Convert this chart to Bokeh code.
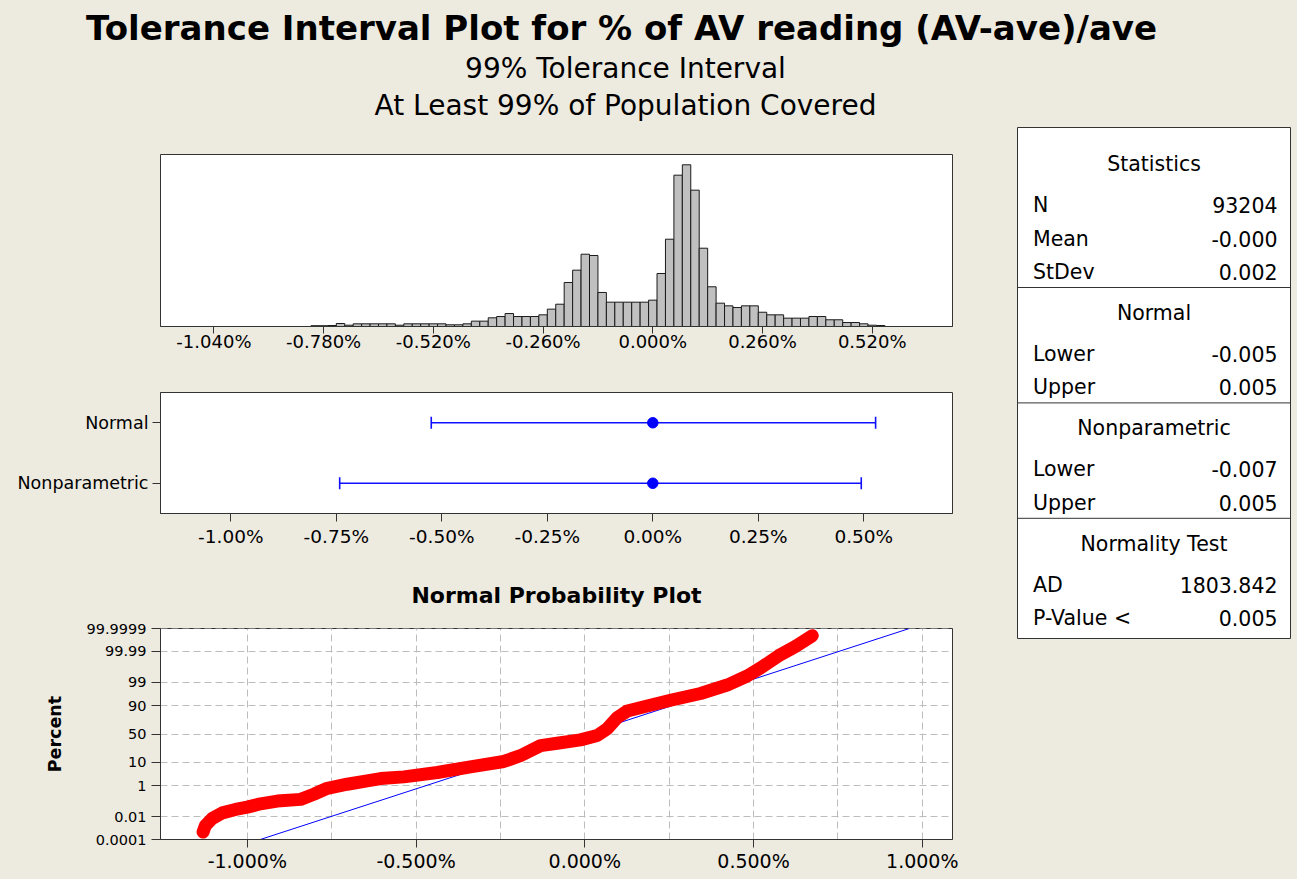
import math
from bokeh.plotting import figure
from bokeh.layouts import column, row
from bokeh.models import Range1d, FactorRange, FixedTicker, PrintfTickFormatter
from bokeh.core.properties import value
from bokeh.embed import file_html
from bokeh.resources import INLINE

# ---------------- data ----------------
title_text = "Tolerance Interval Plot for % of AV reading  (AV-ave)/ave"
subtitle_lines = ["99% Tolerance Interval", "At Least 99% of Population Covered"]

# histogram of (AV-ave)/ave, in percent; bin width 0.02 %
hist_centers = [-0.80, -0.78, -0.76, -0.74, -0.72, -0.70, -0.68, -0.66, -0.64, -0.62,
                -0.60, -0.58, -0.56, -0.54, -0.52, -0.50, -0.48, -0.46, -0.44, -0.42,
                -0.40, -0.38, -0.36, -0.34, -0.32, -0.30, -0.28, -0.26, -0.24, -0.22,
                -0.20, -0.18, -0.16, -0.14, -0.12, -0.10, -0.08, -0.06, -0.04, -0.02,
                0.00, 0.02, 0.04, 0.06, 0.08, 0.10, 0.12, 0.14, 0.16, 0.18,
                0.20, 0.22, 0.24, 0.26, 0.28, 0.30, 0.32, 0.34, 0.36, 0.38,
                0.40, 0.42, 0.44, 0.46, 0.48, 0.50, 0.52, 0.54]
hist_counts = [50, 50, 60, 185, 80, 165, 165, 165, 165, 165,
               80, 165, 165, 165, 165, 165, 105, 105, 165, 330,
               330, 535, 615, 800, 615, 615, 615, 720, 1070, 1375,
               2715, 3475, 4460, 4380, 2100, 1500, 1500, 1500, 1500, 1500,
               1625, 3270, 5385, 9335, 9975, 8410, 4830, 2450, 1440, 1275,
               1170, 1275, 1275, 880, 720, 720, 515, 515, 515, 615,
               615, 415, 415, 245, 245, 165, 80, 60]
hist_bin_width = 0.02
hist_ticks = [-1.04, -0.78, -0.52, -0.26, 0.0, 0.26, 0.52]

# tolerance intervals (percent)
interval_methods = ["Normal", "Nonparametric"]
interval_lower = [-0.525, -0.742]
interval_upper = [0.528, 0.494]
interval_center = [0.0, 0.0]
interval_ticks = [-1.0, -0.75, -0.5, -0.25, 0.0, 0.25, 0.5]

# normal probability plot (value in percent, cumulative percent)
pp_x = [-1.131, -1.124, -1.104, -1.074, -1.035, -1.000, -0.961, -0.911, -0.842, -0.803,
        -0.763, -0.704, -0.645, -0.605, -0.536, -0.437, -0.339, -0.240, -0.191, -0.131,
        -0.082, -0.013, 0.037, 0.066, 0.096, 0.126, 0.185, 0.254, 0.343, 0.422,
        0.481, 0.521, 0.574, 0.624, 0.674]
pp_pct = [0.0005, 0.0019, 0.0070, 0.0189, 0.0337, 0.0492, 0.083, 0.125, 0.161, 0.33,
          0.72, 1.18, 1.73, 2.23, 2.67, 4.13, 6.98, 10.8, 16.4, 30.0,
          33.8, 39.6, 47.3, 59.3, 76.9, 85.0, 89.7, 93.6, 96.6, 98.63,
          99.553, 99.855, 99.9787, 99.996, 99.99953]
fit_mean = 0.0
fit_sd = 0.2023
pp_y_tick_pct = [0.0001, 0.01, 1, 10, 50, 90, 99, 99.99, 99.9999]
pp_y_tick_labels = ["0.0001", "0.01", "1", "10", "50", "90", "99", "99.99", "99.9999"]
pp_x_ticks = [-1.0, -0.5, 0.0, 0.5, 1.0]
pp_x_grid = [-1.0, -0.75, -0.5, -0.25, 0.0, 0.25, 0.5, 0.75, 1.0]

# statistics table
table_sections = ["Statistics", "Normal", "Nonparametric", "Normality Test"]
table_rows = [
    [("N", "93204"), ("Mean", "-0.000"), ("StDev", "0.002")],
    [("Lower", "-0.005"), ("Upper", "0.005")],
    [("Lower", "-0.007"), ("Upper", "0.005")],
    [("AD", "1803.842"), ("P-Value <", "0.005")],
]

# ---------------- styling ----------------
BG = "#EDEAE0"
FONT = "DejaVu Sans"
FRAME = "#333333"
TOTAL_W = 1297
TOTAL_H = 879
TH = 126
W_LEFT = 1005
W_RIGHT = TOTAL_W - W_LEFT
FRAME_L = 160
FRAME_W = 792


def norm_ppf(p):
    lo, hi = -12.0, 12.0
    for _ in range(200):
        mid = 0.5 * (lo + hi)
        if 0.5 * (1.0 + math.erf(mid / math.sqrt(2.0))) < p:
            lo = mid
        else:
            hi = mid
    return 0.5 * (lo + hi)


def make_fig(width, height, x_range, y_range, **kw):
    p = figure(width=width, height=height, x_range=x_range, y_range=y_range,
               output_backend="svg", toolbar_location=None, tools="", **kw)
    p.border_fill_color = BG
    p.background_fill_color = "white"
    p.outline_line_color = FRAME
    p.outline_line_width = 1
    p.min_border = 0
    p.grid.visible = False
    return p


def style_axis(ax, size, tick_out, standoff):
    ax.axis_line_color = FRAME
    ax.major_tick_line_color = FRAME
    ax.major_tick_in = 0
    ax.major_tick_out = tick_out
    ax.minor_tick_line_color = None
    ax.major_label_text_font = FONT
    ax.major_label_text_font_size = size
    ax.major_label_text_color = "black"
    ax.major_label_standoff = standoff


# ---------------- title block ----------------
pt = make_fig(TOTAL_W, TH, Range1d(0, TOTAL_W), Range1d(TH, 0),
              x_axis_location=None, y_axis_location=None)
pt.background_fill_color = BG
pt.outline_line_color = None
pt.text(x=[627], y=[27], text=[title_text], text_font=value(FONT), text_font_style="bold",
        text_font_size="34px", text_align="center", text_baseline="middle", text_color="black")
pt.text(x=[625, 625], y=[68, 105], text=subtitle_lines, text_font=value(FONT),
        text_font_size="28px", text_align="center", text_baseline="middle", text_color="black")

# ---------------- histogram ----------------
hmax = max(hist_counts)
ph = make_fig(W_LEFT, 240, Range1d(-1.1666, 0.7102), Range1d(0, hmax * 172 / 161.7),
              y_axis_location=None)
ph.min_border_left = FRAME_L
ph.min_border_right = W_LEFT - FRAME_L - FRAME_W
ph.min_border_top = 28
ph.min_border_bottom = 40
ph.vbar(x=hist_centers, top=hist_counts, width=hist_bin_width, bottom=0,
        fill_color="#C0C0C0", line_color="#1a1a1a", line_width=1)
ph.xaxis.ticker = FixedTicker(ticks=hist_ticks)
ph.xaxis.formatter = PrintfTickFormatter(format="%.3f%%")
style_axis(ph.xaxis, "18px", 7, -3)

# ---------------- interval plot ----------------
pi_ = make_fig(W_LEFT, 194, Range1d(-1.1666, 0.7102),
               FactorRange(factors=interval_methods[::-1]))
pi_.min_border_left = FRAME_L
pi_.min_border_right = W_LEFT - FRAME_L - FRAME_W
pi_.min_border_top = 26
pi_.min_border_bottom = 47
pi_.segment(x0=interval_lower, y0=interval_methods, x1=interval_upper, y1=interval_methods,
            line_color="#1010FF", line_width=1.6)
pi_.scatter(x=interval_lower + interval_upper, y=interval_methods + interval_methods,
            marker="dash", angle=math.pi / 2, size=12, line_color="#1010FF", line_width=1.6)
pi_.scatter(x=interval_center, y=interval_methods, marker="circle", size=10.5,
            fill_color="#0000FF", line_color="#0000FF")
pi_.xaxis.ticker = FixedTicker(ticks=interval_ticks)
pi_.xaxis.formatter = PrintfTickFormatter(format="%.2f%%")
style_axis(pi_.xaxis, "18.5px", 8, 4)
style_axis(pi_.yaxis, "17.5px", 8, 4)

# ---------------- probability plot ----------------
z_lo = norm_ppf(1e-6)
z_hi = -z_lo
pp_z = [norm_ppf(v / 100.0) for v in pp_pct]
ytick_z = [round(norm_ppf(v / 100.0), 6) for v in pp_y_tick_pct]

PH = TOTAL_H - TH - 240 - 194
pp = make_fig(W_LEFT, PH, Range1d(-1.2572, 1.0895), Range1d(z_lo, z_hi))
pp.min_border_left = FRAME_L
pp.min_border_right = W_LEFT - FRAME_L - FRAME_W
pp.min_border_top = 68
pp.min_border_bottom = PH - 68 - 211
pp.title.text = "Normal Probability Plot"
pp.title.align = "center"
pp.title.text_font = FONT
pp.title.text_font_size = "22px"
pp.title.text_font_style = "bold"
pp.title.text_color = "black"
pp.title.standoff = 41

pp.grid.visible = True
pp.xgrid.ticker = FixedTicker(ticks=pp_x_grid)
pp.grid.grid_line_color = "#BDBDBD"
pp.grid.grid_line_dash = "7 4"
pp.grid.grid_line_width = 1

pp.xaxis.ticker = FixedTicker(ticks=pp_x_ticks)
pp.xaxis.formatter = PrintfTickFormatter(format="%.3f%%")
style_axis(pp.xaxis, "19px", 8, 2)
pp.yaxis.ticker = FixedTicker(ticks=ytick_z)
pp.yaxis.major_label_overrides = {z: lab for z, lab in zip(ytick_z, pp_y_tick_labels)}
style_axis(pp.yaxis, "14.5px", 9, 5)
pp.yaxis.axis_label = "Percent"
pp.yaxis.axis_label_text_font = FONT
pp.yaxis.axis_label_text_font_size = "17.5px"
pp.yaxis.axis_label_text_font_style = "bold"
pp.yaxis.axis_label_text_color = "black"
pp.yaxis.axis_label_standoff = 19

fit_x = [fit_mean + fit_sd * z_lo, fit_mean + fit_sd * z_hi]
pp.line(x=fit_x, y=[z_lo, z_hi], line_color="#0000FF", line_width=1)
pp.line(x=pp_x, y=pp_z, line_color="#FF0000", line_width=13,
        line_cap="round", line_join="round")

# ---------------- statistics table ----------------
TW = 273
TBH = 511
SH = TOTAL_H - TH
ps = make_fig(W_RIGHT, SH, Range1d(0, TW), Range1d(TBH, 0),
              x_axis_location=None, y_axis_location=None)
ps.min_border_left = 12
ps.min_border_right = W_RIGHT - 12 - TW
ps.min_border_top = 1
ps.min_border_bottom = SH - 1 - TBH

head_x, head_y, head_t = [], [], []
lab_y, lab_t, val_t = [], [], []
sep_y = []
y = 11.2
for sec, rows in zip(table_sections, table_rows):
    y += 25.5
    head_x.append(TW / 2)
    head_y.append(y)
    head_t.append(sec)
    y += 41.0
    for i, (lab, val) in enumerate(rows):
        if i > 0:
            y += 33.4
        lab_y.append(y)
        lab_t.append(lab)
        val_t.append(val)
    y += 15.5
    sep_y.append(y)

ps.segment(x0=[0] * 3, x1=[TW] * 3, y0=sep_y[:3], y1=sep_y[:3], line_color=FRAME, line_width=1)
tkw = dict(text_font=value(FONT), text_font_size="20.5px", text_baseline="middle",
           text_color="black")
ps.text(x=head_x, y=head_y, text=head_t, text_align="center", **tkw)
ps.text(x=[15.5] * len(lab_t), y=lab_y, text=lab_t, text_align="left", **tkw)
ps.text(x=[TW - 13] * len(val_t), y=lab_y, text=val_t, text_align="right", **tkw)

bg_style = {"background-color": BG}
left_col = column(ph, pi_, pp, styles=bg_style)
lower = row(left_col, ps, styles=bg_style)
layout = column(pt, lower, styles=bg_style)
open("out.html", "w").write(file_html(layout, INLINE))
